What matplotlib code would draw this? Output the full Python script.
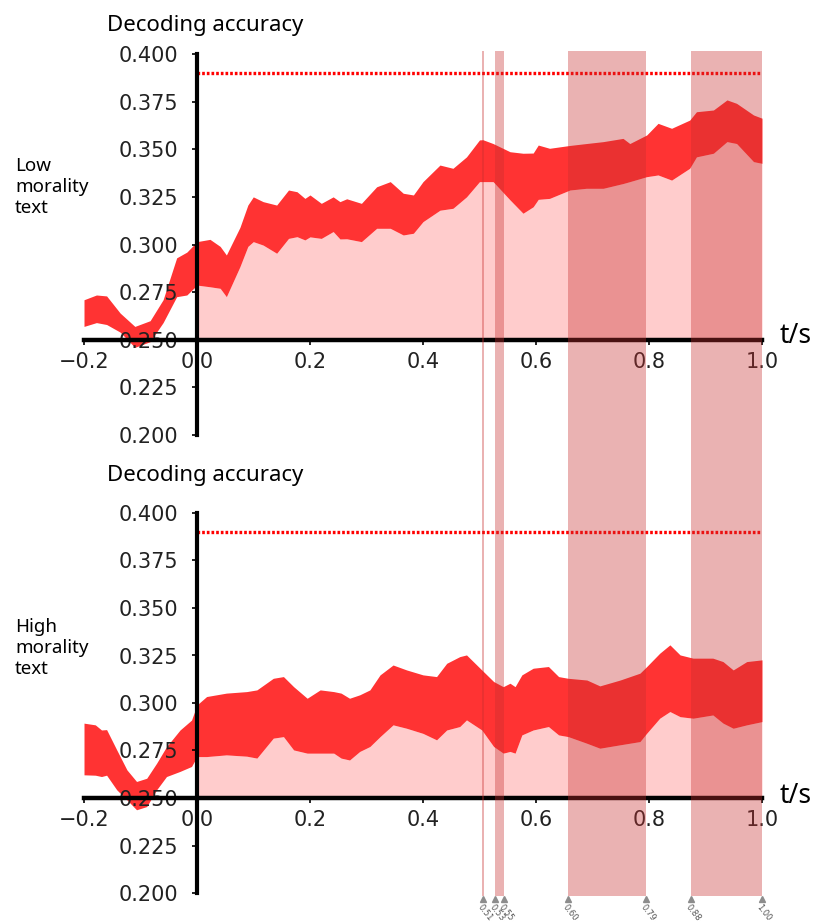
import numpy as np
import matplotlib
matplotlib.use("Agg")
import matplotlib.pyplot as plt

# time points (s) and upper / lower band limits, low morality text
t_low = [-0.2, -0.178, -0.16, -0.136, -0.11, -0.083, -0.06, -0.036, -0.018, 0.0,
         0.023, 0.041, 0.052, 0.076, 0.09, 0.0996, 0.117, 0.141, 0.162, 0.177,
         0.191, 0.2, 0.22, 0.241, 0.253, 0.265, 0.291, 0.318, 0.342, 0.365,
         0.383, 0.4, 0.43, 0.453, 0.477, 0.5, 0.506, 0.524, 0.554, 0.577,
         0.595, 0.604, 0.624, 0.66, 0.689, 0.719, 0.754, 0.766, 0.796, 0.816,
         0.84, 0.872, 0.884, 0.914, 0.938, 0.955, 0.985, 1.0]
low_upper = [0.271, 0.2735, 0.273, 0.264, 0.257, 0.260, 0.271, 0.293, 0.296, 0.3015,
             0.3027, 0.299, 0.2945, 0.309, 0.3207, 0.325, 0.3225, 0.3207, 0.3286, 0.3277,
             0.3242, 0.326, 0.3216, 0.325, 0.3225, 0.324, 0.3216, 0.3303, 0.333, 0.3269,
             0.326, 0.333, 0.3417, 0.340, 0.346, 0.3549, 0.355, 0.353, 0.3487, 0.3479,
             0.348, 0.3522, 0.3505, 0.352, 0.353, 0.354, 0.3557, 0.353, 0.3575, 0.3636,
             0.361, 0.3653, 0.3697, 0.3706, 0.3759, 0.3741, 0.368, 0.3663]
low_lower = [0.257, 0.259, 0.258, 0.254, 0.246, 0.249, 0.259, 0.2726, 0.2735, 0.2787,
             0.2778, 0.277, 0.2726, 0.2884, 0.299, 0.3015, 0.2997, 0.2954, 0.3032, 0.3041,
             0.3024, 0.304, 0.3032, 0.3068, 0.3029, 0.303, 0.3015, 0.3085, 0.3085, 0.305,
             0.3059, 0.312, 0.318, 0.319, 0.325, 0.333, 0.333, 0.333, 0.3234, 0.3164,
             0.3198, 0.3237, 0.3242, 0.3286, 0.3295, 0.3295, 0.332, 0.333, 0.3356, 0.3365,
             0.3338, 0.340, 0.346, 0.3479, 0.354, 0.353, 0.3435, 0.3426]

# same for high morality text
t_high = [-0.2, -0.18, -0.169, -0.16, -0.142, -0.124, -0.107, -0.089, -0.0715, -0.054,
          -0.03, -0.0097, 0.0, 0.017, 0.052, 0.088, 0.106, 0.135, 0.153, 0.171,
          0.195, 0.218, 0.242, 0.255, 0.27, 0.288, 0.306, 0.324, 0.347, 0.371,
          0.4, 0.424, 0.442, 0.465, 0.477, 0.504, 0.525, 0.542, 0.554, 0.563,
          0.575, 0.595, 0.622, 0.64, 0.657, 0.69, 0.713, 0.749, 0.784, 0.796,
          0.819, 0.837, 0.855, 0.878, 0.913, 0.931, 0.949, 0.973, 1.0]
high_upper = [0.2894, 0.2885, 0.2858, 0.286, 0.2753, 0.2648, 0.2587, 0.2604, 0.2683, 0.277,
              0.2858, 0.291, 0.299, 0.3034, 0.3052, 0.306, 0.3069, 0.313, 0.3139, 0.3086,
              0.3025, 0.3069, 0.306, 0.3052, 0.3025, 0.3043, 0.3069, 0.3148, 0.320, 0.3174,
              0.3148, 0.3139, 0.3209, 0.3244, 0.3253, 0.3174, 0.3113, 0.3086, 0.3104, 0.3086,
              0.3148, 0.3183, 0.3192, 0.3139, 0.313, 0.3121, 0.309, 0.3121, 0.3157, 0.3192,
              0.3262, 0.3306, 0.3253, 0.3236, 0.3236, 0.3218, 0.3174, 0.3218, 0.3227]
high_lower = [0.2622, 0.262, 0.2613, 0.262, 0.2543, 0.249, 0.2438, 0.2455, 0.2543, 0.2613,
              0.264, 0.2666, 0.2718, 0.2718, 0.2727, 0.272, 0.271, 0.2815, 0.2823, 0.2753,
              0.2736, 0.2736, 0.2736, 0.271, 0.270, 0.2745, 0.2771, 0.2823, 0.2885, 0.2867,
              0.284, 0.2806, 0.2858, 0.2876, 0.2911, 0.2858, 0.2771, 0.2736, 0.2745, 0.2736,
              0.2832, 0.2858, 0.2876, 0.2832, 0.2823, 0.2788, 0.2762, 0.278, 0.2797, 0.2841,
              0.292, 0.2955, 0.2928, 0.292, 0.2937, 0.2894, 0.2867, 0.2885, 0.2902]

chance_level = 0.39
baseline = 0.25

# significant time windows and the labels written at their edges
sig_start = [0.5045, 0.527, 0.657, 0.874]
sig_end = [0.5075, 0.544, 0.794, 1.0]
edge_pos = [0.506, 0.527, 0.544, 0.657, 0.794, 0.874, 1.0]
edge_labels = ["0.51", "0.53", "0.55", "0.60", "0.79", "0.88", "1.00"]

x_ticks = [-0.2, 0.0, 0.2, 0.4, 0.6, 0.8, 1.0]
y_ticks = [0.200, 0.225, 0.250, 0.275, 0.300, 0.325, 0.350, 0.375, 0.400]

W, H = 817, 922
text_font = ["Noto Sans", "DejaVu Sans"]


def draw_panel(ax, t, upper, lower):
    t = np.array(t)
    upper = np.array(upper)
    lower = np.array(lower)
    after = t >= 0
    ax.fill_between(t[after], baseline, lower[after], color="red", alpha=0.2, lw=0)
    ax.fill_between(t, lower, upper, color="red", alpha=0.8, lw=0)
    ax.plot([0, 1.0], [chance_level, chance_level], color="red", lw=2.4,
            ls=(0, (0.8, 0.6)))

    ax.set_xlim(-0.2, 1.0)
    ax.set_ylim(0.2, 0.4)
    ax.patch.set_alpha(0)
    for side in ["top", "right"]:
        ax.spines[side].set_visible(False)
    ax.spines["left"].set_position(("data", 0))
    ax.spines["bottom"].set_position(("data", baseline))
    ax.spines["left"].set_linewidth(3)
    ax.spines["bottom"].set_linewidth(3.2)

    ax.set_xticks(x_ticks)
    ax.set_yticks(y_ticks)
    ax.set_yticklabels(["%.3f" % v for v in y_ticks])
    ax.tick_params(labelsize=15, length=3.5, width=1.2, labelcolor="#222222")
    ax.tick_params(axis="y", pad=10)
    ax.tick_params(axis="x", pad=5)


fig = plt.figure(figsize=(W / 100, H / 100), dpi=100)

ax_low = fig.add_axes([84 / W, 1 - 435 / H, 678 / W, 381 / H])
ax_high = fig.add_axes([84 / W, 1 - 893 / H, 678 / W, 380 / H])
draw_panel(ax_low, t_low, low_upper, low_lower)
draw_panel(ax_high, t_high, high_upper, high_lower)

# titles, condition names and time unit
fig.text(107 / W, 1 - 31 / H, "Decoding accuracy", fontsize=16, family=text_font)
fig.text(107 / W, 1 - 481 / H, "Decoding accuracy", fontsize=16, family=text_font)
fig.text(15 / W, 1 - 187 / H, "Low\nmorality\ntext", fontsize=13.5,
         family=text_font, va="center", ha="left")
fig.text(15 / W, 1 - 648 / H, "High\nmorality\ntext", fontsize=13.5,
         family=text_font, va="center", ha="left")
fig.text(780 / W, 1 - 336 / H, "t/s", fontsize=19, family=text_font, va="center")
fig.text(780 / W, 1 - 796 / H, "t/s", fontsize=19, family=text_font, va="center")

# shaded windows drawn across both panels
ax_sig = fig.add_axes([84 / W, 1 - 896 / H, 678 / W, (896 - 51) / H])
ax_sig.set_xlim(-0.2, 1.0)
ax_sig.set_ylim(0, 1)
ax_sig.patch.set_alpha(0)
for side in ax_sig.spines:
    ax_sig.spines[side].set_visible(False)
ax_sig.set_yticks([])
for a, b in zip(sig_start, sig_end):
    ax_sig.axvspan(a, b, color="#c83030", alpha=0.37, lw=0)
ax_sig.plot(edge_pos, [-0.003] * len(edge_pos), "^", color="#8c8c8c", ms=4,
            clip_on=False)
ax_sig.set_xticks(edge_pos)
ax_sig.set_xticklabels(edge_labels)
ax_sig.tick_params(axis="x", length=0, labelsize=6, labelcolor="#555555", pad=5)
for lab in ax_sig.get_xticklabels():
    lab.set_rotation(-52)
    lab.set_ha("left")
    lab.set_va("top")
    lab.set_rotation_mode("anchor")

fig.savefig("out.png", dpi=100)
